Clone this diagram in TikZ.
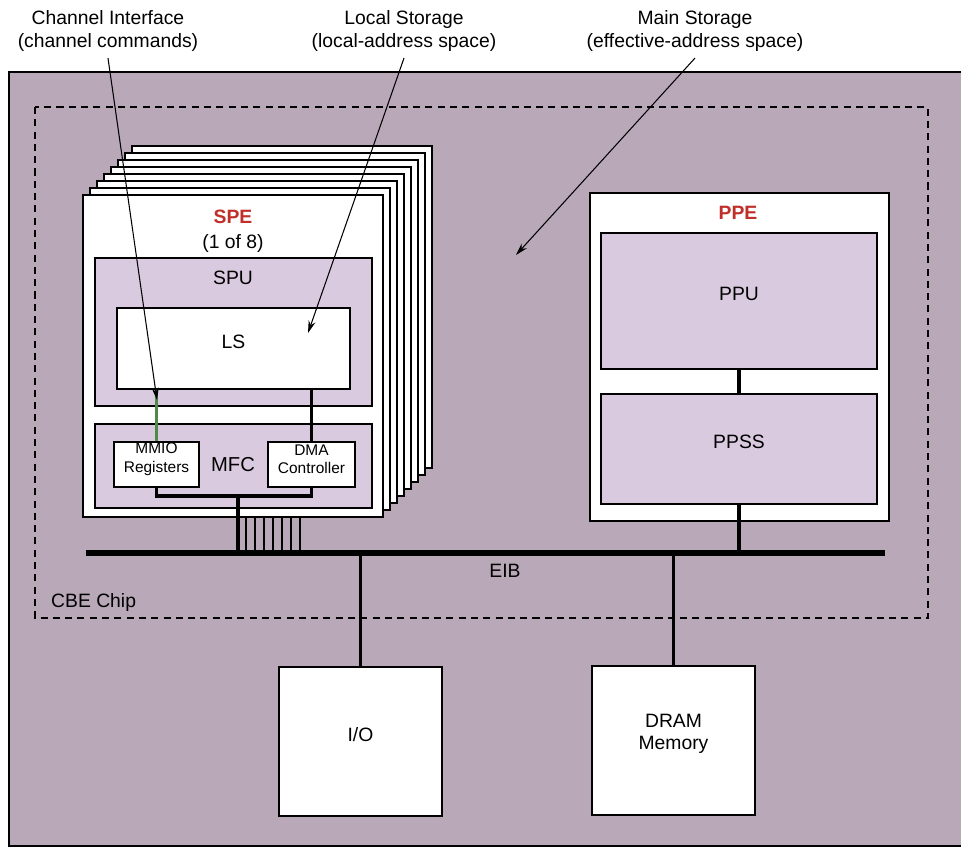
\documentclass[tikz,border=0pt]{standalone}
\usepackage{fontspec}
\setmainfont{Liberation Sans}
\definecolor{cbeBack}{HTML}{B8A8B8}
\definecolor{cbeLilac}{HTML}{DACADF}
\definecolor{cbeRed}{HTML}{C0302A}
\definecolor{cbeGreen}{HTML}{4F8A4A}
\usetikzlibrary{arrows.meta, fit, calc}

\begin{document}
\begin{tikzpicture}[x=0.02cm, y=-0.02cm,
  whitebox/.style={draw, line width=1.1pt, fill=white, inner sep=0pt},
  lilacbox/.style={draw, line width=1.1pt, fill=cbeLilac, inner sep=0pt},
  wire/.style={line width=1.8pt},
  lbl/.style={font=\fontsize{11}{13}\selectfont, align=center},
  small/.style={font=\fontsize{8.8}{10.5}\selectfont, align=center},
  title/.style={font=\fontsize{11}{13}\selectfont\bfseries, text=cbeRed},
  callout/.style={font=\fontsize{11}{13.5}\selectfont, align=center},
  pointer/.style={-{Stealth[length=7pt, width=4pt]}, line width=0.6pt}]

  % page and chip outline
  \useasboundingbox (0,0) rectangle (961,848);
  \fill[cbeBack] (9,72) rectangle (961,846);
  \draw[line width=1pt] (961,72) -- (9,72) -- (9,846) -- (961,846);
  \draw[line width=0.9pt, dash pattern=on 4pt off 3pt] (35,107) rectangle (928,618);
  \node[lbl, anchor=west] (chip) at (45,603) {CBE Chip};

  % EIB
  \coordinate (eibL) at (86,553);
  \coordinate (eibR) at (885,553);
  \draw[line width=3pt] (eibL) -- (eibR);
  \node[lbl] (eib) at (505,571) {EIB};

  % SPE stack, back to front
  \foreach \k in {7,...,1} {
    \node[whitebox, fit={(83+7*\k,195-7*\k) (383+7*\k,517-7*\k)}] (spe\k) {};
    \coordinate (tap\k) at ($(spe\k.south west)+(155+2*\k,0)$);
    \draw[line width=1.6pt] (tap\k) -- (tap\k |- eibL);
  }
  \node[whitebox, fit={(83,195) (383,517)}] (spe0) {};
  \node[title] (spename) at (233,217) {SPE};
  \node[lbl] (speof) at (233,243) {(1 of 8)};

  \node[lilacbox, fit={(95,258) (372,406)}] (spu) {};
  \node[lbl] (spuname) at (233,278) {SPU};
  \node[whitebox, fit={(117,308) (350,389)}, lbl] (ls) {LS};

  \node[lilacbox, fit={(95,424) (372,508)}] (mfc) {};
  \node[lbl, font=\fontsize{11.5}{13}\selectfont] (mfcname) at (233,465) {MFC};
  \node[whitebox, fit={(114,442) (199,487)}, small] (mmio) {MMIO\\Registers};
  \node[whitebox, fit={(268,442) (355,487)}, small] (dma) {DMA\\Controller};

  \draw[cbeGreen, line width=1.6pt] (mmio.north) -- (mmio.north |- ls.south);
  \draw[wire] (dma.north) -- (dma.north |- ls.south);
  \draw[wire] (mmio.south) -- ++(0,8) -| (dma.south);
  \coordinate (spetap) at (238,495);
  \draw[wire] (spetap) -- (spetap |- eibL);

  % PPE
  \node[whitebox, fit={(590,193) (889,521)}] (ppe) {};
  \node[title] (ppename) at (738,213) {PPE};
  \node[lilacbox, fit={(601,233) (877,369)}, lbl] (ppu) {PPU};
  \node[lilacbox, fit={(601,394) (877,504)}, lbl] (ppss) {PPSS};
  \draw[wire] (ppu) -- (ppss);
  \draw[wire] (ppss.south) -- (ppss.south |- eibL);

  % off-chip
  \node[whitebox, fit={(279,667) (442,816)}, lbl] (io) {I/O};
  \node[whitebox, fit={(592,666) (755,815)}, lbl] (dram) {DRAM\\Memory};
  \draw[wire] (io.north) -- (io.north |- eibL);
  \draw[wire] (dram.north) -- (dram.north |- eibL);

  % callouts
  \node[callout] (chnote) at (108,31) {Channel Interface\\(channel commands)};
  \node[callout] (lsnote) at (404,31) {Local Storage\\(local-address space)};
  \node[callout] (msnote) at (695,31) {Main Storage\\(effective-address space)};
  \coordinate (chtip) at (157,400);
  \coordinate (lstip) at (308,333);
  \coordinate (mstip) at (516,255);
  \draw[pointer] (chnote.south) -- (chtip);
  \draw[pointer] (lsnote.south) -- (lstip);
  \draw[pointer] (msnote.south) -- (mstip);
\end{tikzpicture}
\end{document}
